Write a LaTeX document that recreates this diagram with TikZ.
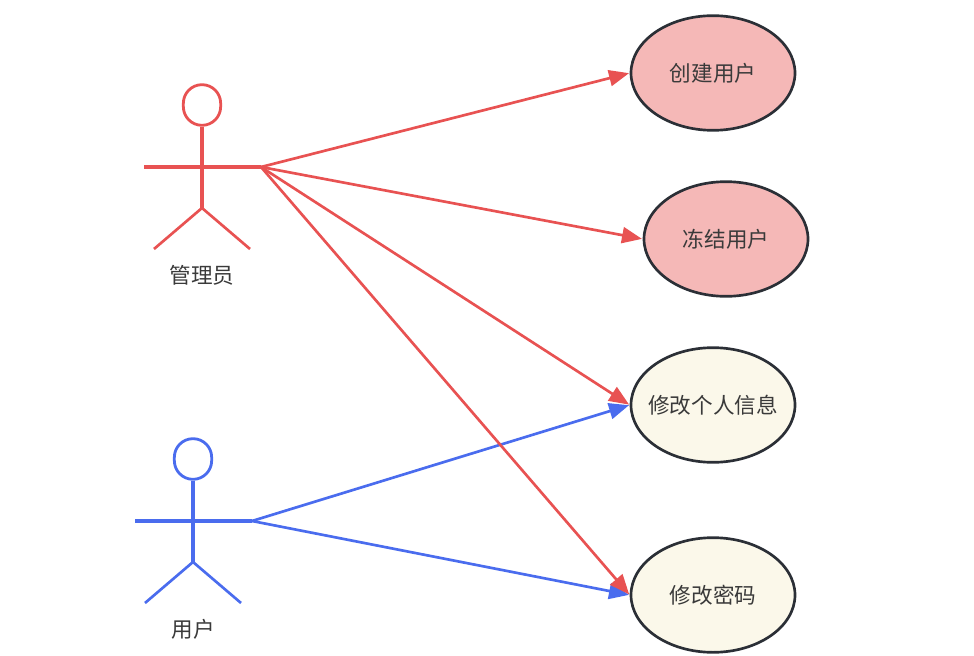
\documentclass[tikz,border=0pt]{standalone}
\usepackage{fontspec}
\setmainfont{Noto Sans CJK SC}
\usetikzlibrary{arrows.meta,shapes.geometric}
\definecolor{adminred}{HTML}{E85252}
\definecolor{userblue}{HTML}{4A6CEE}
\definecolor{edgedark}{HTML}{2B2F36}
\definecolor{labelgray}{HTML}{3A3A3A}
\definecolor{pinkfill}{HTML}{F5B8B7}
\definecolor{creamfill}{HTML}{FBF8EA}
\tikzset{
  usecase/.style={ellipse,draw=edgedark,line width=2pt,minimum width=123pt,minimum height=86pt,inner sep=0pt,text=labelgray,font=\fontsize{16.2}{16.2}\selectfont},
  actorhead/.style={rectangle,rounded corners=14pt,draw,line width=2.1pt,minimum width=28pt,minimum height=30.5pt,inner sep=0pt},
  actorname/.style={text=labelgray,font=\fontsize{16.2}{16.2}\selectfont},
  stickaxis/.style={line width=2.4pt},
  assoc/.style={line width=2pt,-{Triangle[length=15pt,width=12pt]},shorten >=0.5pt}
}
\begin{document}
\begin{tikzpicture}[x=0.75pt,y=-0.75pt]
  \useasboundingbox (0,0) rectangle (974,656);

  \path (713,73) node[usecase,fill=pinkfill] (create) {\makebox[0pt]{创建用户}};
  \path (726,239) node[usecase,fill=pinkfill] (freeze) {\makebox[0pt]{冻结用户}};
  \path (713,405) node[usecase,fill=creamfill] (profile) {\makebox[0pt]{修改个人信息}};
  \path (713,595) node[usecase,fill=creamfill] (password) {\makebox[0pt]{修改密码}};

  % admin
  \begin{scope}[draw=adminred,line width=2pt]
    \path (202,105) node[actorhead,draw=adminred] (adminhead) {};
    \coordinate (adminhip) at (202,208);
    \coordinate (adminleft) at (144,167);
    \coordinate (adminright) at (261,167);
    \coordinate (adminfootl) at (154,249);
    \coordinate (adminfootr) at (250,249);
    \draw[stickaxis] (adminhead.south) -- (adminhip);
    \draw[stickaxis] (adminleft) -- (adminright);
    \draw (adminfootl) -- (adminhip) -- (adminfootr);
  \end{scope}
  \path (202,275) node[actorname] (adminname) {管理员};

  % user
  \begin{scope}[draw=userblue,line width=2pt]
    \path (193,459) node[actorhead,draw=userblue] (userhead) {};
    \coordinate (userhip) at (193,562);
    \coordinate (userleft) at (135,521);
    \coordinate (userright) at (252,521);
    \coordinate (userfootl) at (145,603);
    \coordinate (userfootr) at (241,603);
    \draw[stickaxis] (userhead.south) -- (userhip);
    \draw[stickaxis] (userleft) -- (userright);
    \draw (userfootl) -- (userhip) -- (userfootr);
  \end{scope}
  \path (193,629) node[actorname] (username) {用户};

  \draw[assoc,draw=userblue,fill=userblue] (userright) -- (profile.west);
  \draw[assoc,draw=userblue,fill=userblue] (userright) -- (password.west);
  \draw[assoc,draw=adminred,fill=adminred] (adminright) -- (create.west);
  \draw[assoc,draw=adminred,fill=adminred] (adminright) -- (freeze.west);
  \draw[assoc,draw=adminred,fill=adminred] (adminright) -- (profile.west);
  \draw[assoc,draw=adminred,fill=adminred] (adminright) -- (password.west);
\end{tikzpicture}
\end{document}
